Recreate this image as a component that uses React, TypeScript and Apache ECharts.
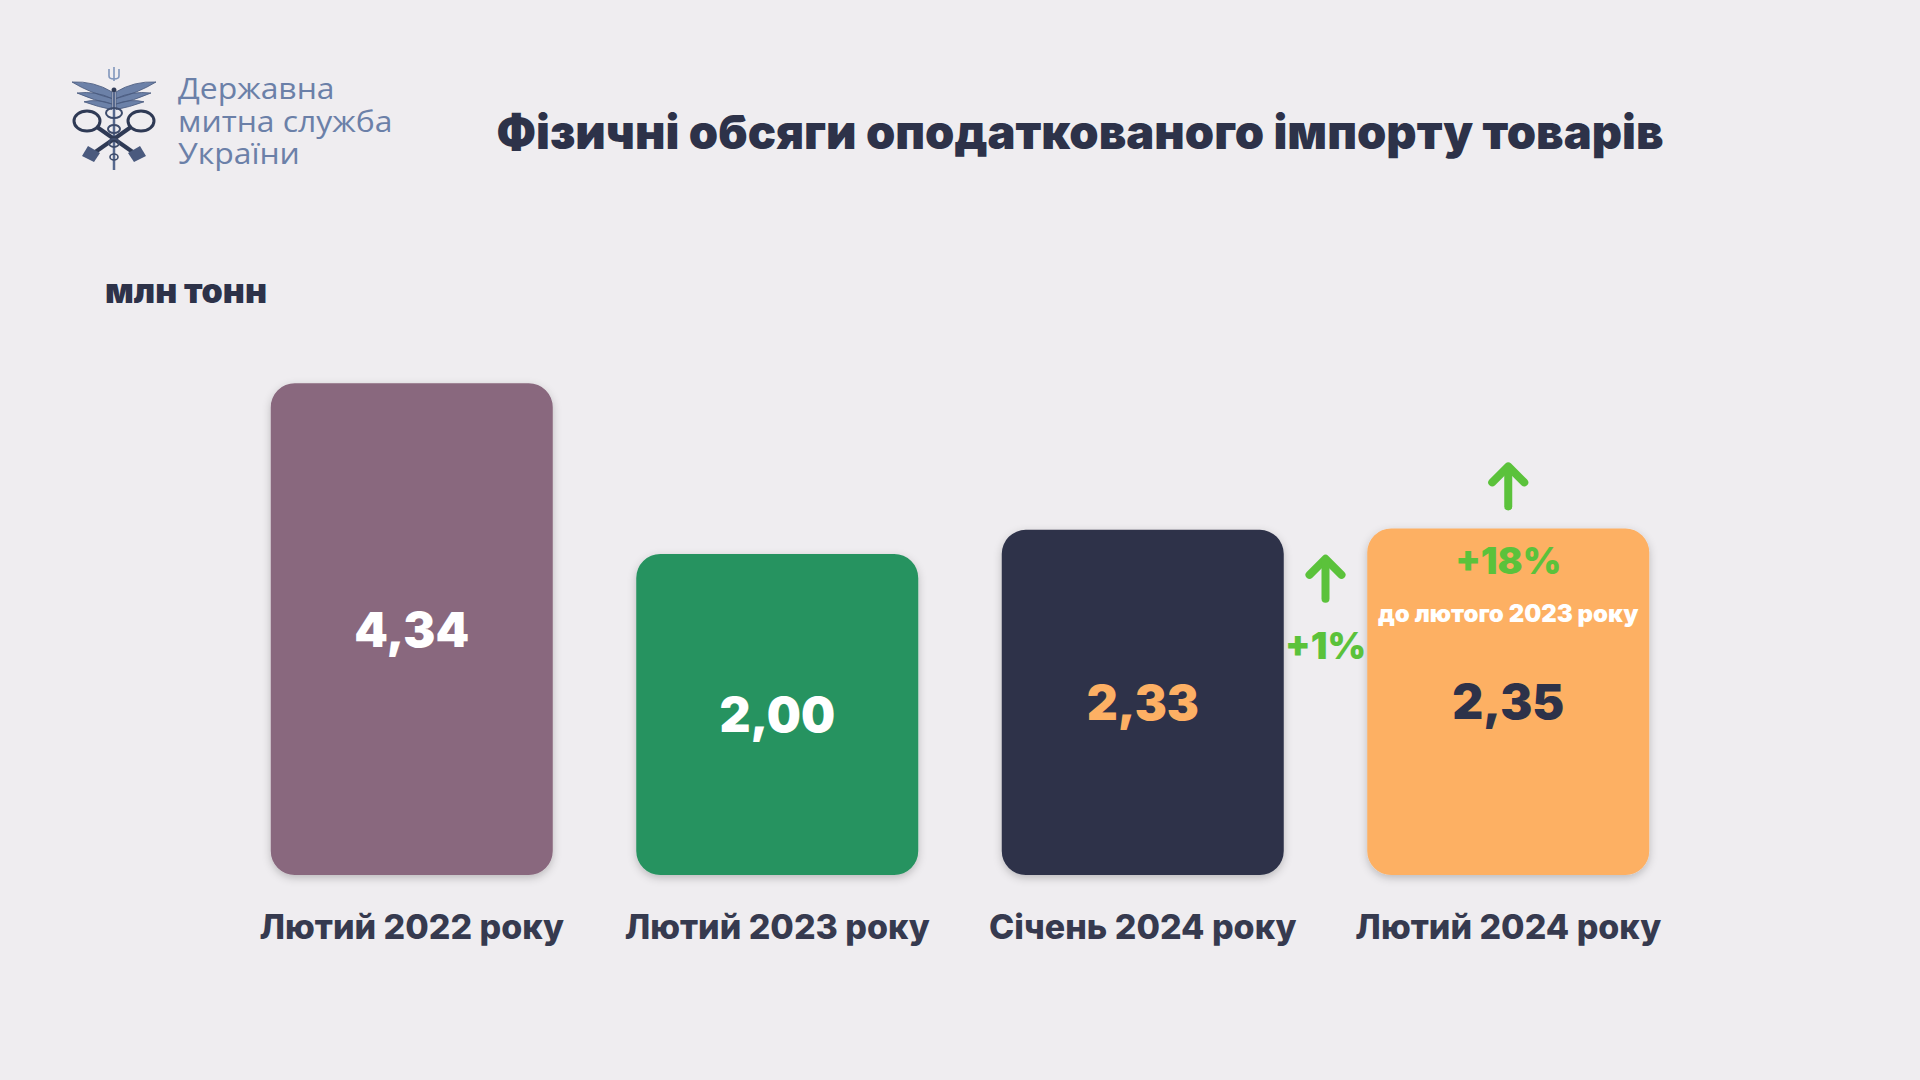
import React, { useEffect, useRef } from "react";
import * as echarts from "echarts";

const categories = ["Лютий 2022 року", "Лютий 2023 року", "Січень 2024 року", "Лютий 2024 року"];
const values = [4.34, 2.0, 2.33, 2.35];
const barColors = ["#89687E", "#289360", "#2D3249", "#FDB064"];
const valueLabelColors = ["#FFFFFF", "#FFFFFF", "#FDB064", "#2D3249"];
const titleText = "Фізичні обсяги оподаткованого імпорту товарів";
const unitText = "млн тонн";
const orgLines = ["Державна", "митна служба", "України"];
const changeVsPrevMonth = "+1%";
const changeVsPrevYear = "+18%";
const changeVsPrevYearNote = "до лютого 2023 року";

const WING_D =
  "M40,9 Q22,-1 0,0 Q18,10 40,15 Z M40,15 Q24,8 5,10 Q22,17 40,20 Z M40,20 Q26,15 12,18 Q27,23 40,25 Z";
const TRIDENT_D = "M5,0 L5,14 M0,2 L0,9 Q0,12 5,12 Q10,12 10,9 L10,2";
echarts.graphic.registerShape("wing", echarts.graphic.extendPath(WING_D, {}));
echarts.graphic.registerShape("trident", echarts.graphic.extendPath(TRIDENT_D, {}));

const BG = "#EFEDF0";
const DARK = "#2D3249";
const GREEN = "#5BC23B";
const FONT = "Inter, Lato, 'Noto Sans', sans-serif";

export default function App() {
  const ref = useRef<HTMLDivElement>(null);
  useEffect(() => {
    const el = ref.current!;
    const chart = echarts.init(el, null, { renderer: "svg" });
    chart.setOption({
      animation: false,
      backgroundColor: BG,
      grid: { left: 229, right: 229, top: 335, bottom: 205 },
      xAxis: {
        type: "category",
        data: categories,
        axisLine: { show: false },
        axisTick: { show: false },
        axisLabel: {
          interval: 0,
          margin: 34,
          fontSize: 34,
          fontWeight: 800,
          fontFamily: FONT,
          color: "#363A4F",
        },
      },
      yAxis: {
        type: "value",
        min: -2.4,
        max: 5,
        startValue: -2.4,
        show: false,
        splitLine: { show: false },
      },
      series: [
        {
          type: "bar",
          barWidth: 282,
          data: values.map((v, i) => ({
            value: v,
            itemStyle: { color: barColors[i] },
            label: { color: valueLabelColors[i] },
          })),
          itemStyle: {
            borderRadius: 24,
            shadowBlur: 8,
            shadowColor: "rgba(0,0,0,0.22)",
            shadowOffsetY: 3,
          },
          label: {
            show: true,
            position: "inside",
            fontSize: 48,
            fontWeight: 900,
            fontFamily: FONT,
            formatter: (p: any) => Number(p.value).toFixed(2).replace(".", ","),
          },
        },
      ],
    });

    const top = (i: number) => chart.convertToPixel({ seriesIndex: 0 }, [i, values[i]]) as number[];
    const p3 = top(2);
    const p4 = top(3);
    const midX = (p3[0] + p4[0]) / 2;

    const arrow = (cx: number, tipY: number) => [
      {
        type: "polyline",
        z: 100,
        shape: { points: [[cx - 16, tipY + 16], [cx, tipY], [cx + 16, tipY + 16]] },
        style: { stroke: GREEN, lineWidth: 8, fill: "none", lineCap: "round", lineJoin: "round" },
      },
      {
        type: "line",
        z: 100,
        shape: { x1: cx, y1: tipY + 2, x2: cx, y2: tipY + 40 },
        style: { stroke: GREEN, lineWidth: 8, lineCap: "round" },
      },
    ];

    const logoStroke = "#2F3A55";
    const logo = [
      { type: "wing", x: 72, y: 82, scaleY: 1.1, style: { fill: "#6C81A8", stroke: "#4A5A7E", lineWidth: 0.8 } },
      { type: "wing", x: 156, y: 82, scaleX: -1, scaleY: 1.1, style: { fill: "#6C81A8", stroke: "#4A5A7E", lineWidth: 0.8 } },
      { type: "trident", x: 109, y: 67, style: { fill: "none", stroke: "#8196BC", lineWidth: 1.6 } },
      { type: "circle", shape: { cx: 114, cy: 90, r: 2.5 }, style: { fill: logoStroke } },
      { type: "line", shape: { x1: 114, y1: 92, x2: 114, y2: 170 }, style: { stroke: "#56688E", lineWidth: 2.5 } },
      { type: "line", shape: { x1: 97, y1: 127, x2: 137, y2: 155 }, style: { stroke: logoStroke, lineWidth: 4 } },
      { type: "line", shape: { x1: 131, y1: 127, x2: 91, y2: 155 }, style: { stroke: logoStroke, lineWidth: 4 } },
      { type: "polygon", shape: { points: [[128, 153], [140, 146], [146, 156], [134, 162]] }, style: { fill: "#4A5A7E" } },
      { type: "polygon", shape: { points: [[100, 153], [88, 146], [82, 156], [94, 162]] }, style: { fill: "#4A5A7E" } },
      { type: "ellipse", shape: { cx: 87, cy: 121, rx: 13, ry: 10 }, style: { fill: "none", stroke: logoStroke, lineWidth: 3 } },
      { type: "ellipse", shape: { cx: 141, cy: 121, rx: 13, ry: 10 }, style: { fill: "none", stroke: logoStroke, lineWidth: 3 } },
      { type: "ellipse", shape: { cx: 114, cy: 113, rx: 8, ry: 5 }, style: { fill: "none", stroke: "#3E4C6C", lineWidth: 2 } },
      { type: "ellipse", shape: { cx: 114, cy: 129, rx: 6, ry: 4 }, style: { fill: "none", stroke: "#3E4C6C", lineWidth: 2 } },
      { type: "ellipse", shape: { cx: 114, cy: 143, rx: 5, ry: 4 }, style: { fill: "none", stroke: "#3E4C6C", lineWidth: 2 } },
      { type: "ellipse", shape: { cx: 114, cy: 157, rx: 4, ry: 3 }, style: { fill: "none", stroke: "#3E4C6C", lineWidth: 1.6 } },
    ];

    chart.setOption({
      graphic: {
        elements: [
          ...logo,
          ...orgLines.map((t, i) => ({
            type: "text",
            x: 178,
            y: 88 + i * 32.5,
            scaleX: 1.1,
            style: {
              text: t,
              fill: "#6B80A8",
              font: `400 29px 'Open Sans', Lato, sans-serif`,
              textVerticalAlign: "middle",
            },
          })),
          {
            type: "text",
            x: 1080,
            y: 131,
            style: {
              text: titleText,
              fill: DARK,
              font: `900 47px ${FONT}`,
              textAlign: "center",
              textVerticalAlign: "middle",
            },
          },
          {
            type: "text",
            x: 105,
            y: 290,
            style: {
              text: unitText,
              fill: DARK,
              font: `900 34px ${FONT}`,
              textVerticalAlign: "middle",
            },
          },
          ...arrow(p4[0], p4[1] - 62),
          {
            type: "text",
            z: 100,
            x: p4[0],
            y: p4[1] + 32,
            style: {
              text: changeVsPrevYear,
              fill: GREEN,
              font: `900 37px ${FONT}`,
              textAlign: "center",
              textVerticalAlign: "middle",
            },
          },
          {
            type: "text",
            z: 100,
            x: p4[0],
            y: p4[1] + 85,
            style: {
              text: changeVsPrevYearNote,
              fill: "#FFFFFF",
              font: `900 24px ${FONT}`,
              textAlign: "center",
              textVerticalAlign: "middle",
            },
          },
          ...arrow(midX, p3[1] + 29),
          {
            type: "text",
            z: 100,
            x: midX,
            y: p3[1] + 116,
            style: {
              text: changeVsPrevMonth,
              fill: GREEN,
              font: `900 37px ${FONT}`,
              textAlign: "center",
              textVerticalAlign: "middle",
            },
          },
        ],
      },
    });

    return () => chart.dispose();
  }, []);

  return (
    <div
      ref={ref}
      style={{ position: "fixed", left: 0, top: 0, width: 1920, height: 1080, background: BG }}
    />
  );
}
